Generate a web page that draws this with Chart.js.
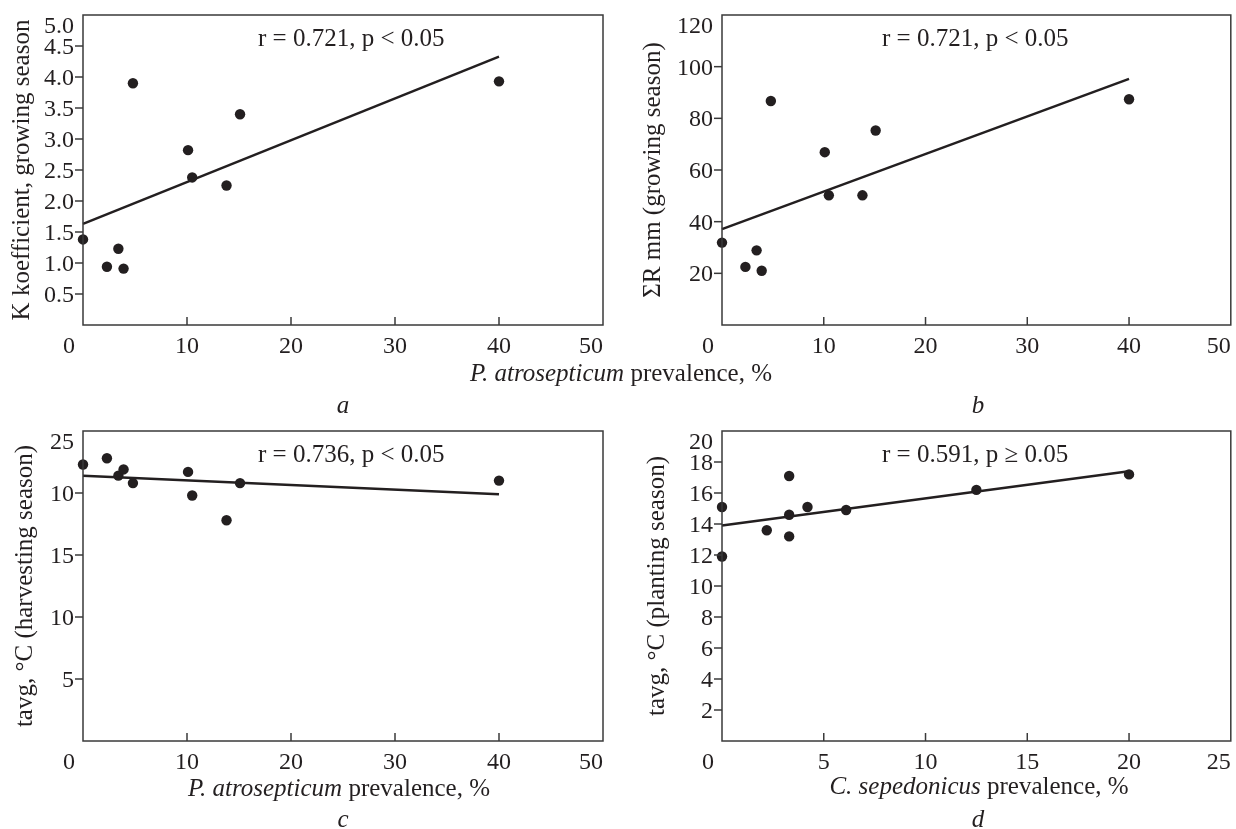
<!DOCTYPE html>
<html>
<head>
<meta charset="utf-8">
<script src="https://cdn.jsdelivr.net/npm/chart.js@4.4.1/dist/chart.umd.min.js"></script>
<style>
  body { margin: 0; background: #fff; width: 1236px; height: 829px; position: relative; overflow: hidden;
         font-family: "Liberation Serif", "Times New Roman", serif; color: #231f20; }
  canvas { position: absolute; }
  .label { position: absolute; font-size: 25px; line-height: 1; white-space: nowrap; transform: translate(-50%, -50%); }
</style>
</head>
<body>
<canvas id="chartA" width="618" height="410" style="left:0;top:0"></canvas>
<canvas id="chartB" width="606" height="410" style="left:630px;top:0"></canvas>
<canvas id="chartC" width="618" height="419" style="left:0;top:410px"></canvas>
<canvas id="chartD" width="606" height="419" style="left:630px;top:410px"></canvas>

<div class="label" style="left:621px;top:372px"><i>P. atrosepticum</i> prevalence, %</div>
<div class="label" style="left:343px;top:404px"><i>a</i></div>
<div class="label" style="left:978px;top:404px"><i>b</i></div>
<div class="label" style="left:339px;top:787px"><i>P. atrosepticum</i> prevalence, %</div>
<div class="label" style="left:343px;top:818px"><i>c</i></div>
<div class="label" style="left:979px;top:785px"><i>C. sepedonicus</i> prevalence, %</div>
<div class="label" style="left:978px;top:818px"><i>d</i></div>

<script>
var ink = "#231f20";
var serif = "'Liberation Serif', 'Times New Roman', serif";

// P. atrosepticum prevalence, % (panels a, b, c)
var prevalenceAtro = [0, 2.3, 3.4, 3.9, 4.8, 10.1, 10.5, 13.8, 15.1, 40];
var kCoefficient = [1.38, 0.94, 1.23, 0.91, 3.90, 2.82, 2.38, 2.25, 3.40, 3.93];
var rainSum = [31.9, 22.5, 28.9, 21.0, 86.7, 66.9, 50.2, 50.2, 75.3, 87.4];
var tavgHarvest = [22.3, 22.8, 21.4, 21.9, 20.8, 21.7, 19.8, 17.8, 20.8, 21.0];

// C. sepedonicus prevalence, % (panel d)
var prevalenceSepe = [0, 0, 2.2, 3.3, 3.3, 3.3, 4.2, 6.1, 12.5, 20];
var tavgPlanting = [15.1, 11.9, 13.6, 17.1, 14.6, 13.2, 15.1, 14.9, 16.2, 17.2];

// regression lines (ends)
var fitAtroX = [0, 40];
var fitK = [1.63, 4.33];
var fitRain = [37.1, 95.3];
var fitHarvest = [21.4, 19.9];
var fitSepeX = [0, 20];
var fitPlanting = [13.9, 17.4];

// ticks
var xTicksAtro = [0, 10, 20, 30, 40, 50];
var xTicksSepe = [0, 5, 10, 15, 20, 25];
var yTicksK = [0.5, 1, 1.5, 2, 2.5, 3, 3.5, 4, 4.5, 5];
var yLabelsK = ["0.5", "1.0", "1.5", "2.0", "2.5", "3.0", "3.5", "4.0", "4.5", "5.0"];
var yTicksRain = [20, 40, 60, 80, 100, 120];
var yTicksHarvest = [5, 10, 15, 20, 25];
var yLabelsHarvest = ["5", "10", "15", "10", "25"];
var yTicksPlanting = [2, 4, 6, 8, 10, 12, 14, 16, 18, 20];

function toPoints(xs, ys) {
  return xs.map(function(x, i) { return { x: x, y: ys[i] }; });
}

function makePanel(id, p) {
  var xLabels = p.xLabels || p.xTicks.map(String);
  var yLabels = p.yLabels || p.yTicks.map(String);

  var axesPlugin = {
    id: "panelAxes",
    afterDraw: function(chart) {
      var ctx = chart.ctx, area = chart.chartArea;
      var sx = chart.scales.x, sy = chart.scales.y;
      ctx.save();
      ctx.strokeStyle = "#3a3a3a";
      ctx.lineWidth = 1.5;
      ctx.strokeRect(area.left, area.top, area.right - area.left, area.bottom - area.top);

      ctx.fillStyle = ink;
      ctx.font = "24px " + serif;
      ctx.textBaseline = "alphabetic";

      // x axis: inward ticks, labels below
      p.xTicks.forEach(function(v, i) {
        var px = sx.getPixelForValue(v);
        var last = p.xTicks.length - 1;
        if (i > 0 && i < last) {
          ctx.beginPath();
          ctx.moveTo(px, area.bottom);
          ctx.lineTo(px, area.bottom - 8);
          ctx.stroke();
          ctx.textAlign = "center";
          ctx.fillText(xLabels[i], px, area.bottom + 28);
        } else {
          ctx.textAlign = "right";
          ctx.fillText(xLabels[i], i === 0 ? px - 8 : px, area.bottom + 28);
        }
      });

      // y axis: outward ticks, labels left
      p.yTicks.forEach(function(v, i) {
        var py = sy.getPixelForValue(v);
        var last = p.yTicks.length - 1;
        if (i < last) {
          ctx.beginPath();
          ctx.moveTo(area.left - 8, py);
          ctx.lineTo(area.left, py);
          ctx.stroke();
        }
        ctx.textAlign = "right";
        ctx.fillText(yLabels[i], area.left - 9, i < last ? py + 8 : py + 18);
      });

      // correlation note
      ctx.font = "25px " + serif;
      ctx.textAlign = "left";
      ctx.fillText(p.note, area.left + p.noteX, area.top + 31);
      ctx.restore();
    }
  };

  return new Chart(document.getElementById(id), {
    type: "scatter",
    data: {
      datasets: [
        {
          data: toPoints(p.fitX, p.fitY),
          showLine: true,
          borderColor: ink,
          borderWidth: 2.5,
          pointRadius: 0,
          clip: false
        },
        {
          data: toPoints(p.xs, p.ys),
          backgroundColor: ink,
          borderWidth: 0,
          pointRadius: 5.2,
          clip: false
        }
      ]
    },
    options: {
      responsive: false,
      animation: false,
      layout: { padding: p.padding },
      plugins: { legend: { display: false }, tooltip: { enabled: false } },
      scales: {
        x: {
          type: "linear",
          min: p.xTicks[0],
          max: p.xTicks[p.xTicks.length - 1],
          ticks: { display: false },
          grid: { display: false },
          border: { display: false },
          afterFit: function(s) { s.height = p.axisHeight; }
        },
        y: {
          type: "linear",
          min: 0,
          max: p.yTicks[p.yTicks.length - 1],
          ticks: { display: false },
          grid: { display: false },
          border: { display: false },
          title: {
            display: true,
            text: p.yTitle,
            color: ink,
            font: { family: serif, size: 25 },
            padding: { top: p.titlePad, bottom: 0 }
          },
          afterFit: function(s) { s.width = p.axisWidth; }
        }
      }
    },
    plugins: [axesPlugin]
  });
}

makePanel("chartA", {
  xs: prevalenceAtro, ys: kCoefficient, fitX: fitAtroX, fitY: fitK,
  xTicks: xTicksAtro, yTicks: yTicksK, yLabels: yLabelsK,
  yTitle: "K koefficient, growing season", note: "r = 0.721, p < 0.05", noteX: 175,
  padding: { left: 0, top: 15, right: 15, bottom: 0 }, axisWidth: 83, axisHeight: 85, titlePad: 7.6
});

makePanel("chartB", {
  xs: prevalenceAtro, ys: rainSum, fitX: fitAtroX, fitY: fitRain,
  xTicks: xTicksAtro, yTicks: yTicksRain,
  yTitle: "ΣR mm (growing season)", note: "r = 0.721, p < 0.05", noteX: 160,
  padding: { left: 0, top: 15, right: 2, bottom: 0 }, axisWidth: 92, axisHeight: 85, titlePad: 8.6
});

makePanel("chartC", {
  xs: prevalenceAtro, ys: tavgHarvest, fitX: fitAtroX, fitY: fitHarvest,
  xTicks: xTicksAtro, yTicks: yTicksHarvest, yLabels: yLabelsHarvest,
  yTitle: "tavg, °C (harvesting season)", note: "r = 0.736, p < 0.05", noteX: 175,
  padding: { left: 0, top: 21, right: 15, bottom: 0 }, axisWidth: 83, axisHeight: 88, titlePad: 10.6
});

makePanel("chartD", {
  xs: prevalenceSepe, ys: tavgPlanting, fitX: fitSepeX, fitY: fitPlanting,
  xTicks: xTicksSepe, yTicks: yTicksPlanting,
  yTitle: "tavg, °C (planting season)", note: "r = 0.591, p ≥ 0.05", noteX: 160,
  padding: { left: 0, top: 21, right: 2, bottom: 0 }, axisWidth: 92, axisHeight: 88, titlePad: 12.3
});
</script>
</body>
</html>
